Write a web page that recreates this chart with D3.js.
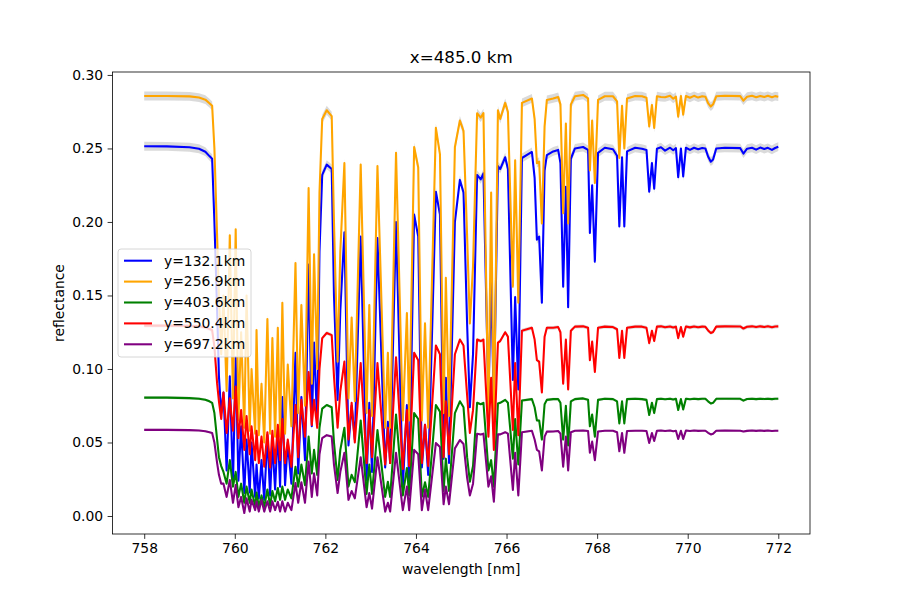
<!DOCTYPE html>
<html>
<head>
<meta charset="utf-8">
<script src="https://cdn.jsdelivr.net/npm/d3@7"></script>
<style>
body{margin:0;background:#fff;}
text{font-family:"DejaVu Sans",sans-serif;}
</style>
</head>
<body>
<div id="plot" style="width:900px;height:600px"></div>
<script>
// wavelength grid [nm]
var wavelength = [
758.00,758.50,759.00,759.21,759.35,759.44,759.50,759.55,759.61,759.65,
759.70,759.75,759.82,759.89,759.96,760.02,760.08,760.14,760.21,760.26,
760.33,760.37,760.45,760.48,760.53,760.59,760.65,760.72,760.78,760.83,
760.89,760.95,761.00,761.05,761.11,761.17,761.25,761.34,761.40,761.47,
761.55,761.63,761.70,761.75,761.82,761.87,761.93,762.03,762.14,762.19,
762.27,762.33,762.42,762.51,762.58,762.65,762.78,762.91,762.97,763.03,
763.15,763.32,763.38,763.43,763.56,763.71,763.80,763.85,763.96,764.05,
764.13,764.20,764.27,764.44,764.53,764.61,764.66,764.73,764.86,764.97,
765.05,765.13,765.19,765.26,765.35,765.43,765.49,765.60,765.66,765.72,
765.81,765.86,765.97,766.03,766.14,766.19,766.26,766.34,766.56,766.62,
766.67,766.72,766.78,766.84,766.89,767.03,767.14,767.19,767.25,767.31,
767.36,767.42,767.51,767.69,767.80,767.84,767.89,767.95,768.02,768.17,
768.35,768.44,768.49,768.55,768.60,768.66,768.84,768.99,769.09,769.15,
769.21,769.26,769.32,769.41,769.50,769.61,769.68,769.74,769.79,769.85,
769.90,769.96,770.05,770.14,770.23,770.32,770.39,770.45,770.51,770.56,
770.63,770.82,771.16,771.23,771.31,771.42,771.51,771.60,771.69,771.77,
771.86,771.93,772.00];

// reflectance, y=132.1km
var r132 = [
.2515,.2514,.2508,.2498,.2478,.2448,.2430,.2000,.1400,.0950,
.0700,.0840,.0310,.0950,.0220,.1080,.0240,.0610,.0156,.0520,
.0160,.0500,.0130,.0350,.0120,.0380,.0110,.0550,.0140,.0500,
.0180,.0585,.0200,.0810,.0210,.0500,.0220,.1110,.0290,.0810,
.0380,.1710,.0610,.1180,.0620,.1800,.2320,.2390,.2360,.1500,
.0790,.1400,.1930,.0480,.0750,.0520,.1900,.0245,.0770,.0300,
.1890,.0330,.0640,.0360,.2000,.0200,.0755,.0220,.2050,.1900,
.0330,.0620,.0280,.2206,.2050,.0390,.0940,.0360,.2000,.2286,
.2200,.1300,.0740,.1100,.2320,.2290,.2330,.0800,.1600,.0750,
.2380,.2360,.2440,.2360,.0925,.1490,.0860,.2435,.2476,.2300,
.1880,.1900,.1450,.2350,.2455,.2480,.2490,.2400,.1560,.2240,
.1420,.2430,.2500,.2510,.2490,.1925,.2250,.1730,.2470,.2505,
.2495,.2450,.1970,.2440,.1970,.2480,.2505,.2498,.2490,.2206,
.2400,.2226,.2498,.2508,.2485,.2505,.2488,.2502,.2304,.2500,
.2310,.2505,.2490,.2505,.2494,.2503,.2500,.2445,.2410,.2425,
.2500,.2505,.2502,.2465,.2498,.2505,.2492,.2506,.2496,.2504,
.2490,.2503,.2512];

// reflectance, y=256.9km
var r257 = [
.2857,.2857,.2854,.2846,.2832,.2808,.2790,.2500,.1900,.1500,
.1100,.1500,.0850,.1910,.0800,.1950,.0650,.1250,.0600,.1500,
.0580,.1000,.0560,.1265,.0550,.0900,.0500,.1340,.0560,.1210,
.0540,.1280,.0540,.1450,.0560,.1030,.0610,.1720,.0700,.1435,
.0750,.2230,.0900,.1780,.1000,.2200,.2700,.2760,.2720,.2000,
.1050,.1800,.2400,.0800,.1350,.0780,.2390,.0700,.1435,.0680,
.2380,.0600,.1110,.0600,.2470,.0650,.1380,.0650,.2510,.2370,
.0650,.1310,.0600,.2640,.2460,.0700,.1620,.0680,.2510,.2690,
.2620,.1900,.1310,.1700,.2740,.2710,.2740,.0650,.2200,.0600,
.2760,.2700,.2810,.2750,.1560,.2420,.1450,.2810,.2840,.2700,
.2400,.2410,.1990,.2650,.2830,.2840,.2850,.2800,.2060,.2670,
.1990,.2800,.2855,.2864,.2840,.2350,.2690,.2265,.2830,.2855,
.2855,.2820,.2435,.2790,.2500,.2840,.2857,.2855,.2845,.2650,
.2796,.2640,.2855,.2850,.2848,.2858,.2838,.2852,.2716,.2857,
.2730,.2857,.2845,.2858,.2846,.2855,.2852,.2808,.2785,.2800,
.2855,.2858,.2856,.2825,.2852,.2858,.2849,.2857,.2850,.2858,
.2848,.2856,.2852];

// reflectance, y=403.6km
var r404 = [
.0805,.0805,.0802,.0798,.0791,.0780,.0770,.0700,.0520,.0400,
.0340,.0300,.0220,.0380,.0200,.0300,.0130,.0220,.0090,.0200,
.0090,.0180,.0063,.0160,.0060,.0140,.0060,.0180,.0070,.0170,
.0100,.0190,.0110,.0200,.0110,.0180,.0120,.0335,.0200,.0350,
.0210,.0540,.0290,.0450,.0280,.0600,.0730,.0755,.0740,.0500,
.0245,.0450,.0600,.0200,.0280,.0230,.0650,.0150,.0350,.0150,
.0585,.0130,.0233,.0130,.0690,.0140,.0327,.0140,.0700,.0660,
.0130,.0230,.0130,.0755,.0710,.0170,.0390,.0170,.0700,.0780,
.0740,.0400,.0233,.0340,.0770,.0760,.0770,.0310,.0380,.0200,
.0765,.0770,.0790,.0770,.0390,.0660,.0350,.0785,.0795,.0740,
.0650,.0650,.0520,.0760,.0790,.0795,.0795,.0770,.0520,.0750,
.0480,.0780,.0795,.0800,.0790,.0610,.0690,.0540,.0790,.0798,
.0795,.0780,.0630,.0780,.0630,.0795,.0798,.0795,.0790,.0687,
.0770,.0700,.0795,.0798,.0794,.0798,.0793,.0797,.0721,.0795,
.0725,.0798,.0794,.0798,.0795,.0797,.0797,.0780,.0765,.0770,
.0797,.0798,.0797,.0785,.0796,.0798,.0795,.0798,.0796,.0798,
.0795,.0797,.0798];

// reflectance, y=550.4km
var r550 = [
.1295,.1295,.1293,.1290,.1283,.1272,.1265,.1150,.0900,.0780,
.0660,.0840,.0565,.0800,.0580,.0880,.0530,.0720,.0450,.0680,
.0420,.0610,.0380,.0580,.0360,.0540,.0335,.0570,.0330,.0580,
.0360,.0620,.0380,.0660,.0360,.0520,.0335,.0755,.0400,.0790,
.0540,.0980,.0620,.0790,.0600,.1000,.1210,.1245,.1230,.0950,
.0600,.0850,.1050,.0520,.0770,.0500,.1040,.0360,.0720,.0400,
.1040,.0350,.0600,.0360,.1080,.0320,.0720,.0340,.1110,.1060,
.0360,.0620,.0340,.1160,.1100,.0400,.0780,.0420,.1100,.1200,
.1160,.0820,.0565,.0720,.1200,.1190,.1200,.0540,.0940,.0450,
.1180,.1190,.1250,.1220,.0585,.1040,.0550,.1260,.1280,.1200,
.1060,.1050,.0840,.1220,.1280,.1280,.1285,.1250,.0900,.1200,
.0860,.1260,.1288,.1290,.1280,.1060,.1186,.0980,.1280,.1288,
.1285,.1270,.1075,.1260,.1075,.1280,.1288,.1288,.1280,.1176,
.1260,.1190,.1288,.1290,.1284,.1289,.1282,.1288,.1210,.1285,
.1220,.1289,.1283,.1289,.1284,.1288,.1287,.1262,.1245,.1252,
.1288,.1290,.1289,.1275,.1287,.1290,.1285,.1290,.1286,.1290,
.1284,.1289,.1290];

// reflectance, y=697.2km
var r697 = [
.0586,.0586,.0584,.0581,.0577,.0570,.0565,.0500,.0360,.0280,
.0220,.0220,.0130,.0245,.0090,.0210,.0060,.0130,.0020,.0120,
.0030,.0110,.0040,.0100,.0030,.0110,.0030,.0100,.0030,.0100,
.0040,.0097,.0030,.0100,.0030,.0090,.0040,.0224,.0090,.0230,
.0090,.0370,.0130,.0290,.0140,.0420,.0530,.0550,.0540,.0350,
.0156,.0300,.0430,.0110,.0170,.0120,.0400,.0060,.0156,.0050,
.0400,.0030,.0090,.0030,.0430,.0040,.0200,.0040,.0450,.0420,
.0040,.0180,.0040,.0496,.0470,.0080,.0200,.0080,.0460,.0517,
.0490,.0260,.0140,.0220,.0560,.0555,.0560,.0200,.0270,.0097,
.0555,.0555,.0570,.0560,.0177,.0430,.0140,.0570,.0580,.0520,
.0450,.0440,.0310,.0540,.0574,.0575,.0578,.0560,.0335,.0540,
.0310,.0570,.0580,.0582,.0578,.0430,.0506,.0380,.0575,.0580,
.0580,.0570,.0440,.0565,.0430,.0578,.0580,.0580,.0578,.0497,
.0565,.0510,.0580,.0581,.0578,.0581,.0577,.0580,.0524,.0580,
.0524,.0581,.0578,.0581,.0579,.0580,.0580,.0566,.0555,.0560,
.0580,.0581,.0580,.0575,.0579,.0581,.0579,.0581,.0579,.0581,
.0578,.0580,.0580];

var seriesNames = ['y=132.1km','y=256.9km','y=403.6km','y=550.4km','y=697.2km'];
var seriesValues = [r132, r257, r404, r550, r697];
var seriesColors = ['#0000ff','#ffa500','#008000','#ff0000','#800080'];
// half width of the grey spread band drawn round each curve
var bandHalf = [0.0030, 0.0030, 0.0009, 0.0013, 0.0007];
var xTicks = [758,760,762,764,766,768,770,772];
var yTicks = [0.00,0.05,0.10,0.15,0.20,0.25,0.30];

//Set up the drawing environment here
var W = 900, H = 600;
var margin = {t:72,r:90,b:66,l:112.5};
var width = W-margin.l-margin.r,
	height = H-margin.t-margin.b;

var svg = d3.select('#plot')
	.append('svg')
	.attr('width',W)
	.attr('height',H);

var plot = svg.append('g')
	.attr('transform','translate('+margin.l+','+margin.t+')');

var x = d3.scaleLinear().domain([757.3,772.7]).range([0,width]);
var y = d3.scaleLinear().domain([-0.01224,0.302]).range([height,0]);

plot.append('defs').append('clipPath').attr('id','clip')
	.append('rect').attr('width',width).attr('height',height);

var line = d3.line()
	.x(function(d){return x(d[0]);})
	.y(function(d){return y(d[1]);});

var lines = plot.append('g').attr('clip-path','url(#clip)');

var allPts = seriesValues.map(function(vals){
	return wavelength.map(function(w,j){return [w,vals[j]];});
});

// grey bands first
allPts.forEach(function(pts,i){
	var band = d3.area()
		.x(function(d){return x(d[0]);})
		.y0(function(d){return y(d[1]-bandHalf[i]);})
		.y1(function(d){return y(d[1]+bandHalf[i]);});
	lines.append('path')
		.datum(pts)
		.attr('d',band)
		.attr('fill','#d3d3d3')
		.attr('fill-opacity',0.85);
});

// then the curves, in plotting order
allPts.forEach(function(pts,i){
	lines.append('path')
		.datum(pts)
		.attr('d',line)
		.attr('fill','none')
		.attr('stroke',seriesColors[i])
		.attr('stroke-width',2.08)
		.attr('stroke-linejoin','round');
});

// axes
var xAxis = d3.axisBottom(x).tickValues(xTicks).tickSize(4.9).tickPadding(4.5)
	.tickFormat(d3.format('d'));
var yAxis = d3.axisLeft(y).tickValues(yTicks).tickSize(4.9).tickPadding(4.5)
	.tickFormat(d3.format('.2f'));

var gx = plot.append('g').attr('transform','translate(0,'+height+')').call(xAxis);
var gy = plot.append('g').call(yAxis);
[gx,gy].forEach(function(g){
	g.select('.domain').remove();
	g.selectAll('line').attr('stroke','#000').attr('stroke-width',0.8);
	g.selectAll('text').attr('fill','#000').style('font-size','13.9px')
		.style('font-family','"DejaVu Sans",sans-serif');
});

plot.append('rect')
	.attr('width',width)
	.attr('height',height)
	.attr('fill','none')
	.attr('stroke','#000')
	.attr('stroke-width',0.8);

// labels
svg.append('text')
	.attr('x',margin.l+width/2)
	.attr('y',63)
	.attr('text-anchor','middle')
	.style('font-size','16.7px')
	.text('x=485.0 km');

svg.append('text')
	.attr('x',margin.l+width/2)
	.attr('y',574)
	.attr('text-anchor','middle')
	.style('font-size','13.9px')
	.text('wavelength [nm]');

svg.append('text')
	.attr('transform','translate(64,'+(margin.t+height/2)+') rotate(-90)')
	.attr('text-anchor','middle')
	.style('font-size','13.9px')
	.text('reflectance');

// legend
var legend = svg.append('g').attr('transform','translate(118,249)');
legend.append('rect')
	.attr('width',133)
	.attr('height',108)
	.attr('rx',3)
	.attr('fill','#fff')
	.attr('fill-opacity',0.8)
	.attr('stroke','#cccccc')
	.attr('stroke-width',0.8);

seriesNames.forEach(function(name,i){
	var yy = 11.7 + i*20.9;
	legend.append('line')
		.attr('x1',6).attr('x2',34)
		.attr('y1',yy).attr('y2',yy)
		.attr('stroke',seriesColors[i])
		.attr('stroke-width',2.08);
	legend.append('text')
		.attr('x',46)
		.attr('y',yy)
		.attr('dy','0.35em')
		.style('font-size','13.9px')
		.text(name);
});
</script>
</body>
</html>
